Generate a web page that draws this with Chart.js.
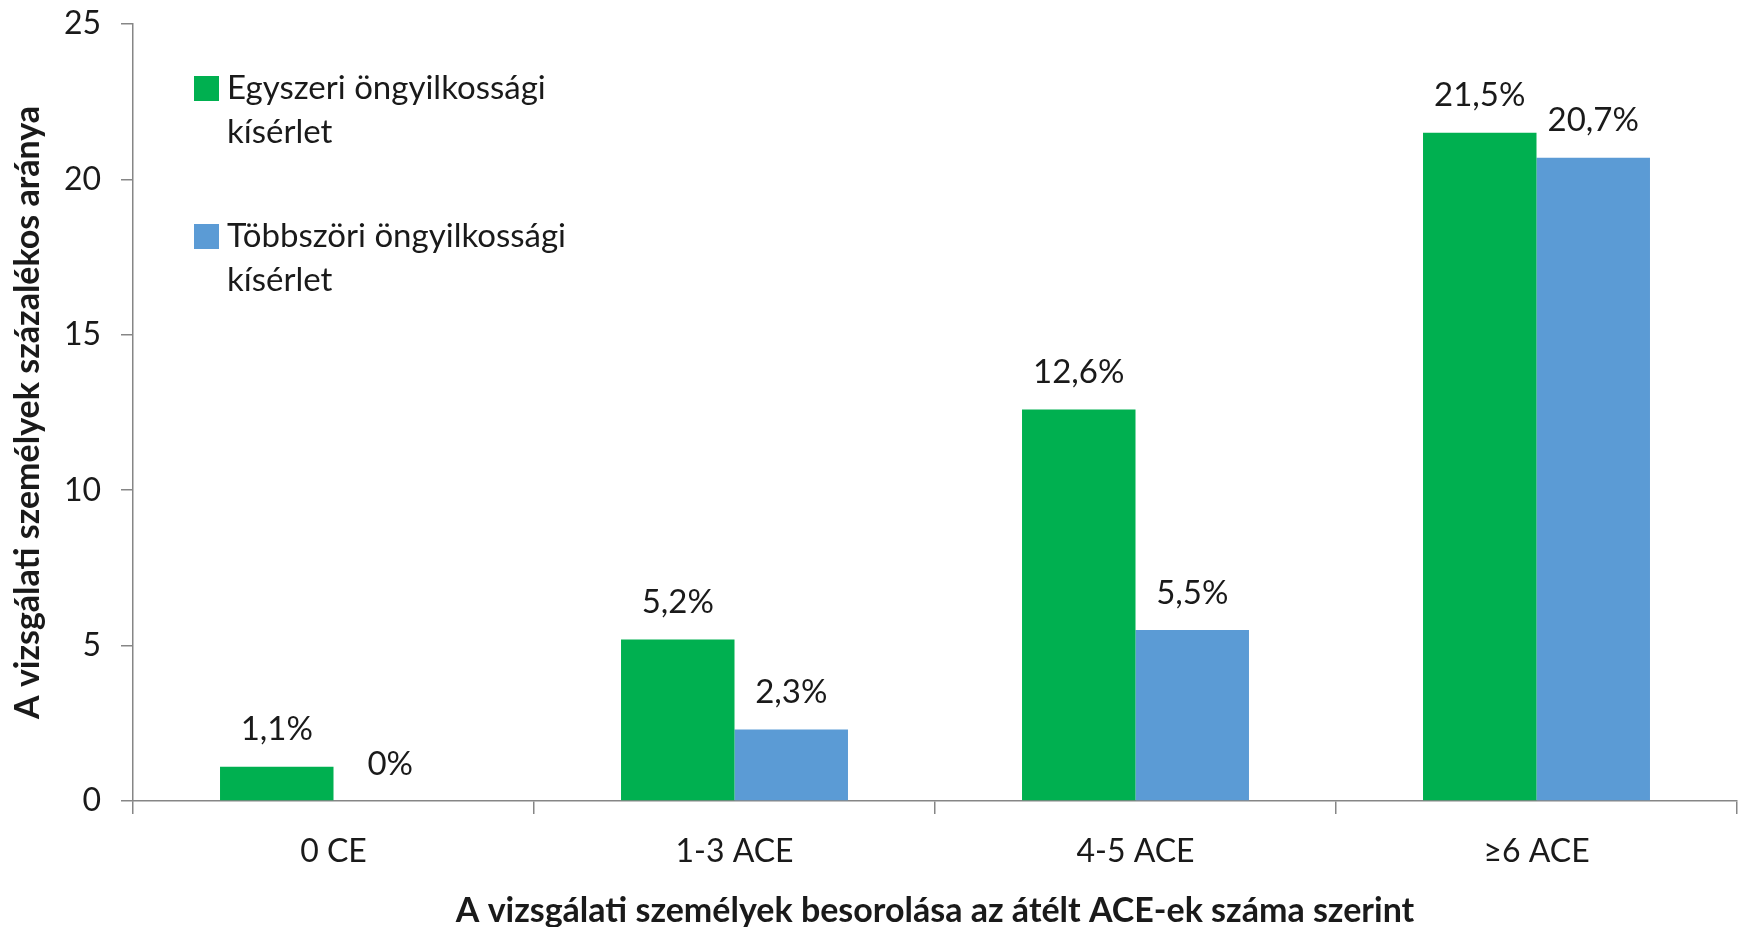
<!DOCTYPE html>
<html>
<head>
<meta charset="utf-8">
<script src="https://cdn.jsdelivr.net/npm/chart.js@4.4.1/dist/chart.umd.min.js"></script>
<style>
  html, body { margin: 0; padding: 0; background: #fff; }
  #wrap { width: 1742px; height: 927px; }
</style>
</head>
<body>
<div id="wrap"><canvas id="chart" width="1742" height="927"></canvas></div>
<script>
// Data
const categories = ['0 CE', '1-3 ACE', '4-5 ACE', '≥6 ACE'];
const singleAttempt = [1.1, 5.2, 12.6, 21.5];
const repeatedAttempt = [0, 2.3, 5.5, 20.7];
const seriesNames = [['Egyszeri öngyilkossági', 'kísérlet'], ['Többszöri öngyilkossági', 'kísérlet']];
const yTicks = [0, 5, 10, 15, 20, 25];

const FONT = 'Lato, "Open Sans", sans-serif';
const TEXT = '#1a1a1a';
const AXIS = '#868686';

// value labels above each bar
const valueLabels = {
  id: 'valueLabels',
  afterDatasetsDraw(chart) {
    const ctx = chart.ctx;
    ctx.save();
    ctx.font = '33px ' + FONT;
    ctx.fillStyle = TEXT;
    ctx.textAlign = 'center';
    ctx.textBaseline = 'middle';
    chart.data.datasets.forEach((ds, i) => {
      chart.getDatasetMeta(i).data.forEach((bar, j) => {
        const txt = String(ds.data[j]).replace('.', ',') + '%';
        ctx.fillText(txt, bar.x, bar.y - 37);
      });
    });
    ctx.restore();
  }
};

// legend inside the plot, two-line labels
const boxLegend = {
  id: 'boxLegend',
  afterDraw(chart) {
    const ctx = chart.ctx;
    const area = chart.chartArea;
    ctx.save();
    ctx.font = '33px ' + FONT;
    ctx.textAlign = 'left';
    ctx.textBaseline = 'middle';
    chart.data.datasets.forEach((ds, i) => {
      const y0 = area.top + 64 + i * 148;
      ctx.fillStyle = ds.backgroundColor;
      ctx.fillRect(area.left + 61, y0 - 12, 25, 25);
      ctx.fillStyle = TEXT;
      seriesNames[i].forEach((line, k) => {
        ctx.fillText(line, area.left + 94, y0 + k * 44);
      });
    });
    ctx.restore();
  }
};

new Chart(document.getElementById('chart'), {
  type: 'bar',
  data: {
    labels: categories,
    datasets: [
      { label: seriesNames[0].join(' '), data: singleAttempt, backgroundColor: '#00B050' },
      { label: seriesNames[1].join(' '), data: repeatedAttempt, backgroundColor: '#5B9BD5' }
    ]
  },
  options: {
    responsive: false,
    animation: false,
    layout: { padding: { top: 24, right: 5, left: 0, bottom: 0 } },
    datasets: { bar: { categoryPercentage: 0.566, barPercentage: 1.0 } },
    plugins: {
      legend: { display: false },
      tooltip: { enabled: false }
    },
    scales: {
      x: {
        offset: true,
        grid: { offset: true, drawOnChartArea: false, tickLength: 13, color: AXIS, lineWidth: 1.5 },
        border: { color: AXIS, width: 1.5 },
        ticks: { color: TEXT, font: { family: FONT, size: 32 }, padding: 18 },
        title: {
          display: true,
          text: 'A vizsgálati személyek besorolása az átélt ACE-ek száma szerint',
          color: TEXT,
          font: { family: FONT, size: 34, weight: 'bold' },
          padding: { top: 12, bottom: -4 }
        },
        afterFit: s => { s.height = 126; }
      },
      y: {
        min: 0,
        max: 25,
        afterBuildTicks: s => { s.ticks = yTicks.map(v => ({ value: v })); },
        grid: { drawOnChartArea: false, tickLength: 12, color: AXIS, lineWidth: 1.5 },
        border: { color: AXIS, width: 1.5 },
        ticks: { color: TEXT, font: { family: FONT, size: 32 }, padding: 20 },
        title: {
          display: true,
          text: 'A vizsgálati személyek százalékos aránya',
          color: TEXT,
          font: { family: FONT, size: 34, weight: 'bold' },
          padding: { top: 8, bottom: 4 }
        },
        afterFit: s => {
          s.width = 133;
          s.paddingTop = 0;
          s.paddingBottom = 0;
        }
      }
    }
  },
  plugins: [valueLabels, boxLegend]
});
</script>
</body>
</html>
